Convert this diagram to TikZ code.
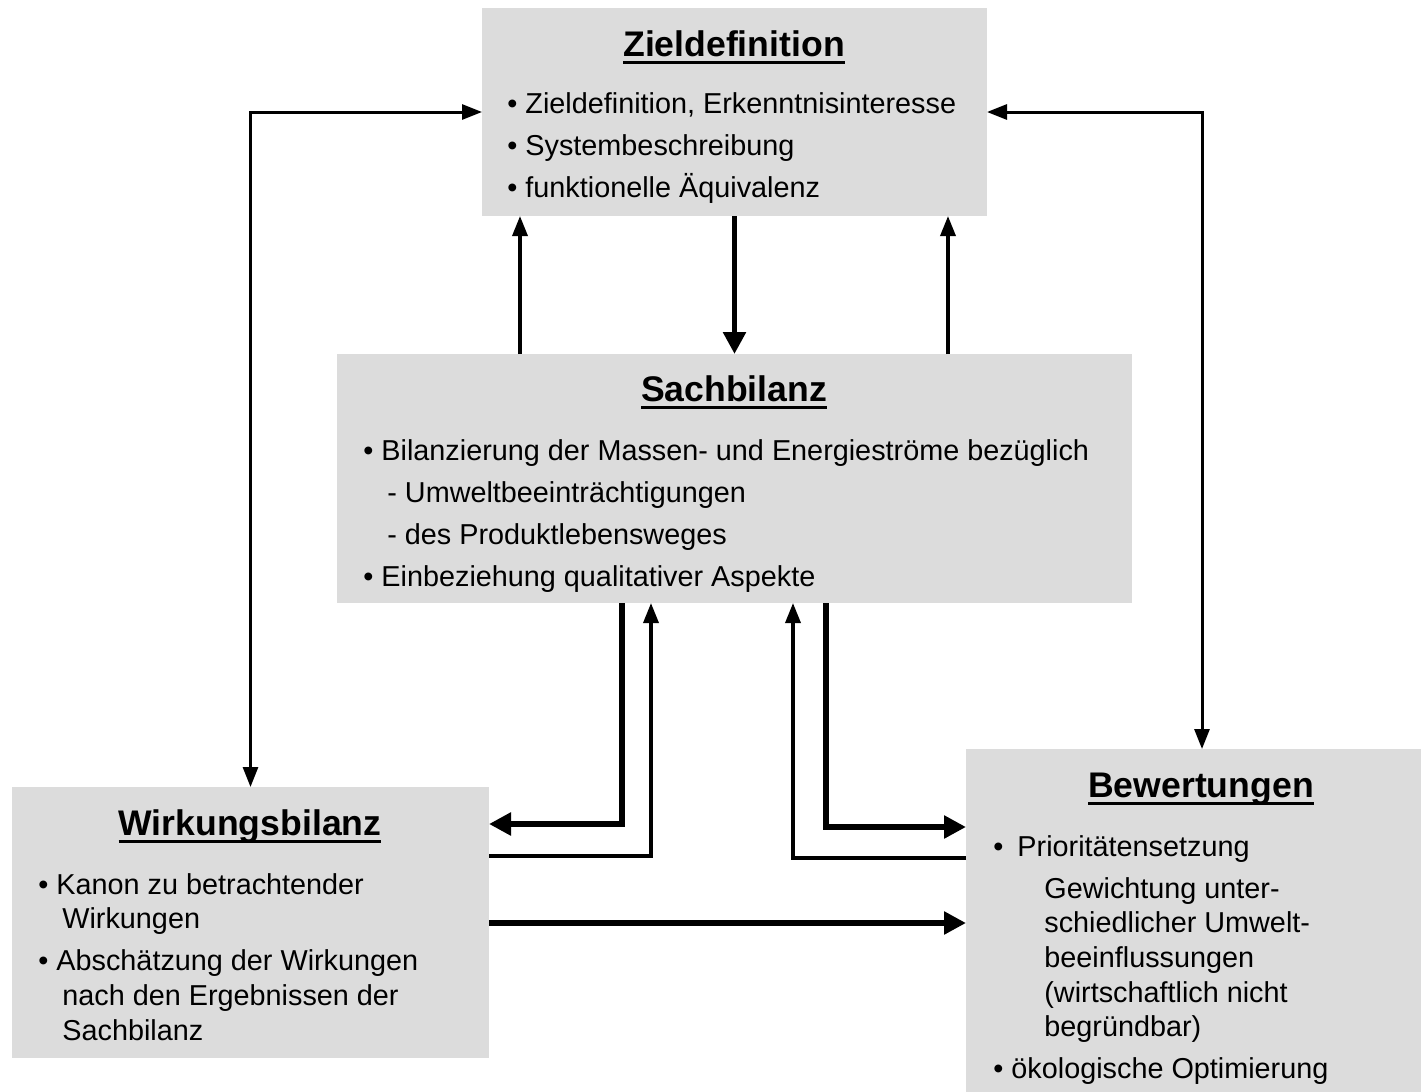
\documentclass[tikz,border=0pt]{standalone}
\usepackage{fontspec}
\setmainfont{Liberation Sans}
\usetikzlibrary{arrows.meta}
\definecolor{boxgray}{RGB}{220,220,220}
\newcommand\myul[1]{\setbox0\hbox{#1}\rlap{\rule[-3.8pt]{\wd0}{1.5pt}}\box0}
\begin{document}
\begin{tikzpicture}[x=0.5pt,y=-0.5pt,
  box/.style={fill=boxgray, draw=none, inner sep=0pt, outer sep=0pt},
  ttl/.style={anchor=base, inner sep=0pt, font=\fontsize{17.8}{21}\selectfont\bfseries},
  txt/.style={anchor=base west, inner sep=0pt, font=\fontsize{14.4}{21}\selectfont},
  loopst/.style={line width=1.5pt, {Triangle[length=10pt,width=7.5pt]}-{Triangle[length=10pt,width=7.5pt]}},
  thinarr/.style={line width=1.7pt, -{Triangle[length=10pt,width=7.5pt]}},
  thickarr/.style={line width=2.9pt, -{Triangle[length=11pt,width=11pt]}},
]
\useasboundingbox (0,0) rectangle (1421,1092);

% boxes
\node[box, minimum width=252.5pt, minimum height=104pt] (zf) at (734.5,112) {};
\node[box, minimum width=397.5pt, minimum height=124.5pt] (sb) at (734.5,478.5) {};
\node[box, minimum width=238.5pt, minimum height=135.5pt] (wb) at (250.5,922.5) {};
\node[box, minimum width=227.5pt, minimum height=171.5pt] (bw) at (1193.5,920.5) {};

% Zieldefinition text
\node[ttl] (zft) at (734,56) {\myul{Zieldefinition}};
\node[txt] (zf1) at (507,113) {• Zieldefinition, Erkenntnisinteresse};
\node[txt] (zf2) at (507,155) {• Systembeschreibung};
\node[txt] (zf3) at (507,197) {• funktionelle Äquivalenz};

% Sachbilanz text
\node[ttl] (sbt) at (734,401) {\myul{Sachbilanz}};
\node[txt] (sb1) at (363,460) {• Bilanzierung der Massen- und Energieströme bezüglich};
\node[txt] (sb2) at (387,502) {- Umweltbeeinträchtigungen};
\node[txt] (sb3) at (387,544) {- des Produktlebensweges};
\node[txt] (sb4) at (363,586) {• Einbeziehung qualitativer Aspekte};

% Wirkungsbilanz text
\node[ttl] (wbt) at (250,835) {\myul{Wirkungsbilanz}};
\node[txt] (wb1) at (38,894) {• Kanon zu betrachtender};
\node[txt] (wb2) at (62,928) {Wirkungen};
\node[txt] (wb3) at (38,970) {• Abschätzung der Wirkungen};
\node[txt] (wb4) at (62,1005) {nach den Ergebnissen der};
\node[txt] (wb5) at (62,1040) {Sachbilanz};

% Bewertungen text
\node[ttl] (bwt) at (1201,797) {\myul{Bewertungen}};
\node[txt] (bw1) at (993,856) {•\hspace{7pt}Prioritätensetzung};
\node[txt] (bw2) at (1044,898) {Gewichtung unter-};
\node[txt] (bw3) at (1044,932) {schiedlicher Umwelt-};
\node[txt] (bw4) at (1044,967) {beeinflussungen};
\node[txt] (bw5) at (1044,1002) {(wirtschaftlich nicht};
\node[txt] (bw6) at (1044,1036) {begründbar)};
\node[txt] (bw7) at (993,1078) {• ökologische Optimierung};

% helper columns / rows
\coordinate (xA) at (520,0);
\coordinate (xB) at (948,0);
\coordinate (xR) at (1202,0);
\coordinate (xC) at (622,0);
\coordinate (xD) at (651,0);
\coordinate (xE) at (826,0);
\coordinate (xF) at (793,0);
\coordinate (yW1) at (0,824);
\coordinate (yW2) at (0,856);
\coordinate (yB1) at (0,827);
\coordinate (yB2) at (0,858);
\coordinate (yM) at (0,923);

% connectors
\draw[thickarr] (zf.south) -- (sb.north);
\draw[thinarr] (xA |- sb.north) -- (xA |- zf.south);
\draw[thinarr] (xB |- sb.north) -- (xB |- zf.south);
\draw[loopst] (wb.north) |- (zf.west);
\draw[loopst] (xR |- bw.north) |- (zf.east);
\draw[thickarr] (xC |- sb.south) |- (wb.east |- yW1);
\draw[thinarr] (wb.east |- yW2) -| (xD |- sb.south);
\draw[thickarr] (xE |- sb.south) |- (bw.west |- yB1);
\draw[thinarr] (bw.west |- yB2) -| (xF |- sb.south);
\draw[thickarr] (wb.east |- yM) -- (bw.west |- yM);
\end{tikzpicture}
\end{document}
